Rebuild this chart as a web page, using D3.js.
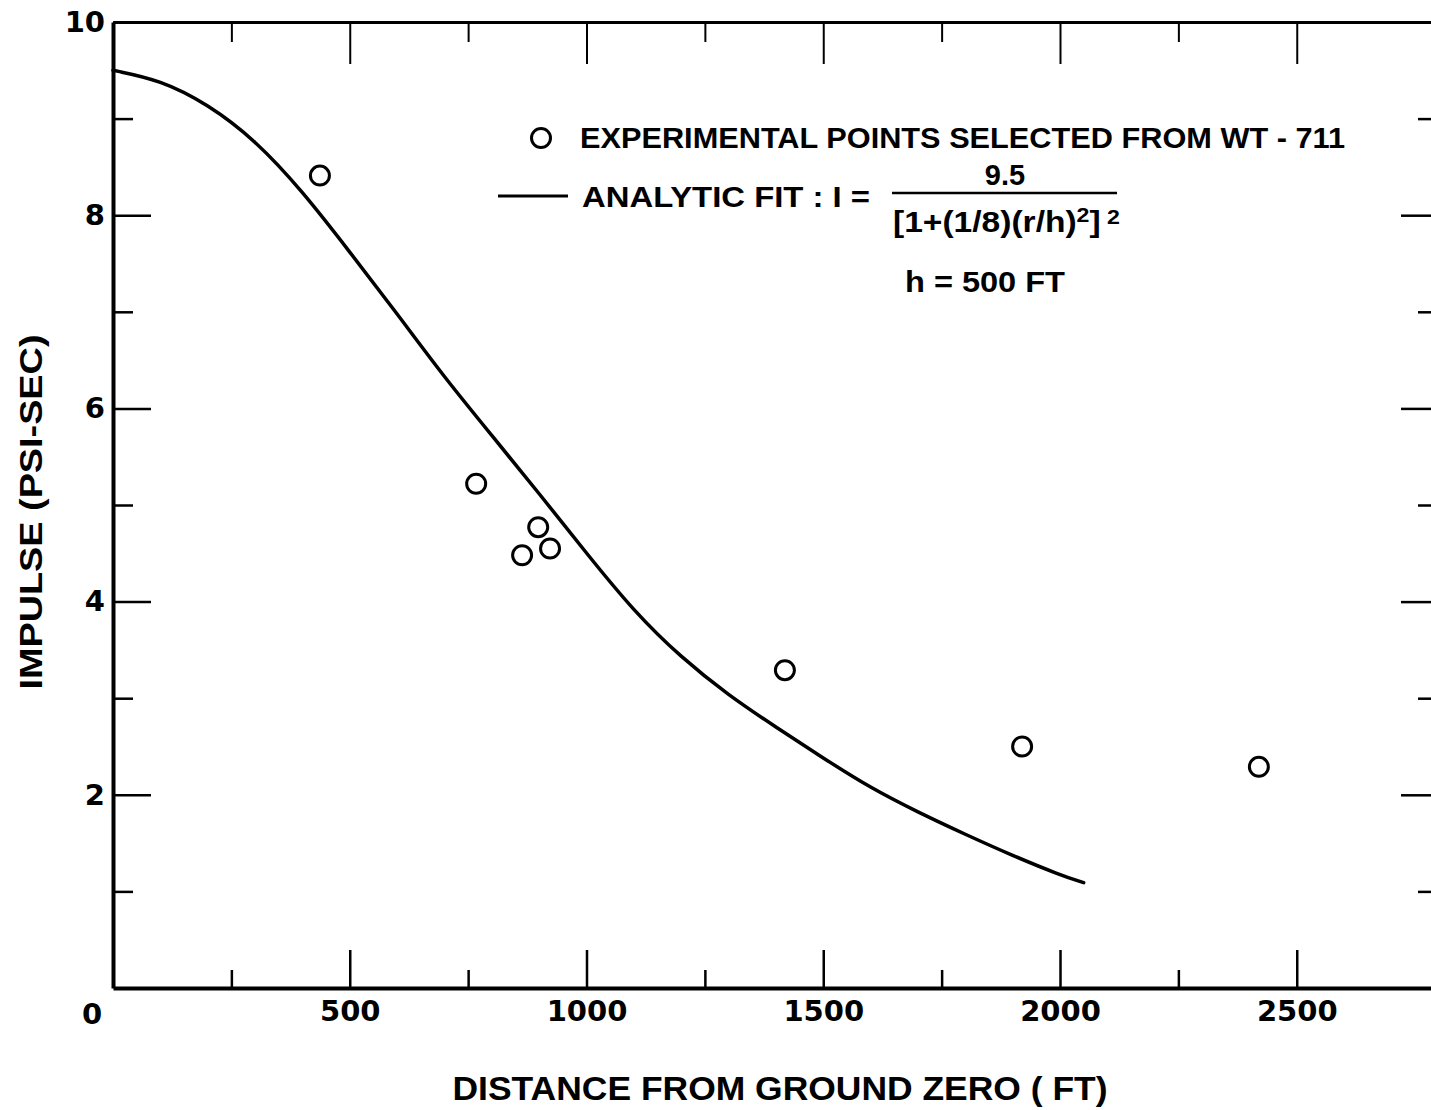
<!DOCTYPE html>
<html>
<head>
<meta charset="utf-8">
<script src="https://cdn.jsdelivr.net/npm/d3@7"></script>
<style>
  body { margin: 0; background: #fff; }
  svg { display: block; }
  text { font-family: "Liberation Sans", Arial, sans-serif; font-weight: bold; fill: #000; }
</style>
</head>
<body>
<div id="chart"></div>
<script>
// experimental points (WT-711)
const pointDistance = [437, 767, 864, 898, 923, 1419, 1920, 2420];
const pointImpulse  = [8.41, 5.22, 4.48, 4.77, 4.55, 3.29, 2.50, 2.29];

// analytic fit curve
const curveDistance = [0, 100, 200, 300, 400, 500, 600, 700, 800, 900, 1000, 1100, 1200, 1300, 1400, 1500, 1600, 1700, 1800, 1900, 2000, 2050];
const curveImpulse  = [9.5, 9.4, 9.15, 8.78, 8.25, 7.62, 6.98, 6.32, 5.72, 5.12, 4.5, 3.9, 3.42, 3.03, 2.7, 2.38, 2.07, 1.82, 1.59, 1.37, 1.17, 1.09];

const xMajorTicks = [500, 1000, 1500, 2000, 2500];
const xMinorTicks = [250, 750, 1250, 1750, 2250];
const yMajorTicks = [2, 4, 6, 8, 10];
const yMinorTicks = [1, 3, 5, 7, 9];

const width = 1431, height = 1110;
const tickFont = '"DejaVu Sans", "Liberation Sans", sans-serif';

const svg = d3.select('#chart').append('svg')
    .attr('width', width)
    .attr('height', height);

const x = d3.scaleLinear().domain([0, 2800]).range([113, 1438.8]);
const y = d3.scaleLinear().domain([0, 10]).range([988, 22]);

const styleAxis = (g, sw) => {
    g.selectAll('.tick line').attr('stroke', '#000').attr('stroke-width', sw);
    g.selectAll('.tick text').style('font-size', '29px').style('font-family', tickFont).attr('fill', '#000');
    g.select('.domain').attr('stroke', '#000');
};

// bottom axis (major with labels, minor without)
svg.append('g')
    .attr('transform', `translate(0,${y(0)})`)
    .call(d3.axisBottom(x).tickValues(xMajorTicks).tickSize(-38).tickSizeOuter(0).tickPadding(12).tickFormat(d3.format('d')))
    .call(g => styleAxis(g, 2.5))
    .call(g => g.select('.domain').attr('stroke-width', 4));
svg.append('g')
    .attr('transform', `translate(0,${y(0)})`)
    .call(d3.axisBottom(x).tickValues(xMinorTicks).tickSize(-18).tickFormat(''))
    .call(g => styleAxis(g, 2.5))
    .call(g => g.select('.domain').remove());

// origin label sits left of the axis
svg.append('text')
    .attr('x', x(0) - 21)
    .attr('y', y(0) + 36)
    .attr('text-anchor', 'middle')
    .style('font-family', tickFont)
    .style('font-size', '29px')
    .text('0');

// top frame
svg.append('g')
    .attr('transform', `translate(0,${y(10)})`)
    .call(d3.axisTop(x).tickValues(xMajorTicks).tickSize(-42).tickSizeOuter(0).tickFormat(''))
    .call(g => styleAxis(g, 2))
    .call(g => g.select('.domain').attr('stroke-width', 3));
svg.append('g')
    .attr('transform', `translate(0,${y(10)})`)
    .call(d3.axisTop(x).tickValues(xMinorTicks).tickSize(-20).tickFormat(''))
    .call(g => styleAxis(g, 2))
    .call(g => g.select('.domain').remove());

// left axis
svg.append('g')
    .attr('transform', `translate(${x(0)},0)`)
    .call(d3.axisLeft(y).tickValues(yMajorTicks).tickSize(-38).tickSizeOuter(0).tickPadding(8).tickFormat(d3.format('d')))
    .call(g => styleAxis(g, 2.5))
    .call(g => g.select('.domain').attr('stroke-width', 4));
svg.append('g')
    .attr('transform', `translate(${x(0)},0)`)
    .call(d3.axisLeft(y).tickValues(yMinorTicks).tickSize(-20).tickFormat(''))
    .call(g => styleAxis(g, 2.5))
    .call(g => g.select('.domain').remove());

// right edge ticks (frame itself is cut off)
svg.append('g')
    .attr('transform', `translate(${width},0)`)
    .call(d3.axisRight(y).tickValues(yMajorTicks.filter(d => d < 10)).tickSize(-30).tickFormat(''))
    .call(g => styleAxis(g, 2.5))
    .call(g => g.select('.domain').remove());
svg.append('g')
    .attr('transform', `translate(${width},0)`)
    .call(d3.axisRight(y).tickValues(yMinorTicks).tickSize(-13).tickFormat(''))
    .call(g => styleAxis(g, 2.5))
    .call(g => g.select('.domain').remove());

// fit curve
const curveData = curveDistance.map((d, i) => [d, curveImpulse[i]]);
svg.append('path')
    .datum(curveData)
    .attr('fill', 'none')
    .attr('stroke', '#000')
    .attr('stroke-width', 3.5)
    .attr('stroke-linecap', 'round')
    .attr('d', d3.line().x(d => x(d[0])).y(d => y(d[1])).curve(d3.curveBasis));

// experimental points
svg.selectAll('circle.pt')
    .data(pointDistance.map((d, i) => [d, pointImpulse[i]]))
    .join('circle')
    .attr('class', 'pt')
    .attr('cx', d => x(d[0]))
    .attr('cy', d => y(d[1]))
    .attr('r', 9.5)
    .attr('fill', 'none')
    .attr('stroke', '#000')
    .attr('stroke-width', 3);

// axis titles
svg.append('text')
    .attr('x', 780)
    .attr('y', 1100)
    .attr('text-anchor', 'middle')
    .attr('textLength', 655)
    .attr('lengthAdjust', 'spacingAndGlyphs')
    .style('font-size', '33px')
    .text('DISTANCE  FROM GROUND ZERO ( FT)');

svg.append('text')
    .attr('transform', 'translate(42,512) rotate(-90)')
    .attr('text-anchor', 'middle')
    .attr('textLength', 355)
    .attr('lengthAdjust', 'spacingAndGlyphs')
    .style('font-size', '31px')
    .text('IMPULSE (PSI-SEC)');

// legend
const legend = svg.append('g');
legend.append('circle')
    .attr('cx', 541).attr('cy', 138).attr('r', 9.5)
    .attr('fill', 'none').attr('stroke', '#000').attr('stroke-width', 3);
legend.append('text')
    .attr('x', 580).attr('y', 148)
    .attr('textLength', 765)
    .attr('lengthAdjust', 'spacingAndGlyphs')
    .style('font-size', '29px')
    .text('EXPERIMENTAL  POINTS  SELECTED FROM  WT - 711');

legend.append('line')
    .attr('x1', 498).attr('x2', 568).attr('y1', 196).attr('y2', 196)
    .attr('stroke', '#000').attr('stroke-width', 3);
legend.append('text')
    .attr('x', 582).attr('y', 207)
    .attr('textLength', 288)
    .attr('lengthAdjust', 'spacingAndGlyphs')
    .style('font-size', '29px')
    .text('ANALYTIC FIT : I =');

legend.append('text')
    .attr('x', 1005).attr('y', 185)
    .attr('text-anchor', 'middle')
    .style('font-size', '29px')
    .text('9.5');
legend.append('line')
    .attr('x1', 892).attr('x2', 1117).attr('y1', 193).attr('y2', 193)
    .attr('stroke', '#000').attr('stroke-width', 2.5);

const den = legend.append('text')
    .attr('x', 893).attr('y', 232)
    .attr('textLength', 227)
    .attr('lengthAdjust', 'spacingAndGlyphs')
    .style('font-size', '29px');
den.append('tspan').text('[1+(1/8)(r/h)');
den.append('tspan').attr('dy', -10).style('font-size', '20px').text('2');
den.append('tspan').attr('dy', 10).text(']');
den.append('tspan').attr('dy', -8).style('font-size', '20px').text(' 2');

legend.append('text')
    .attr('x', 905).attr('y', 292)
    .attr('textLength', 160)
    .attr('lengthAdjust', 'spacingAndGlyphs')
    .style('font-size', '29px')
    .text('h = 500 FT');
</script>
</body>
</html>
